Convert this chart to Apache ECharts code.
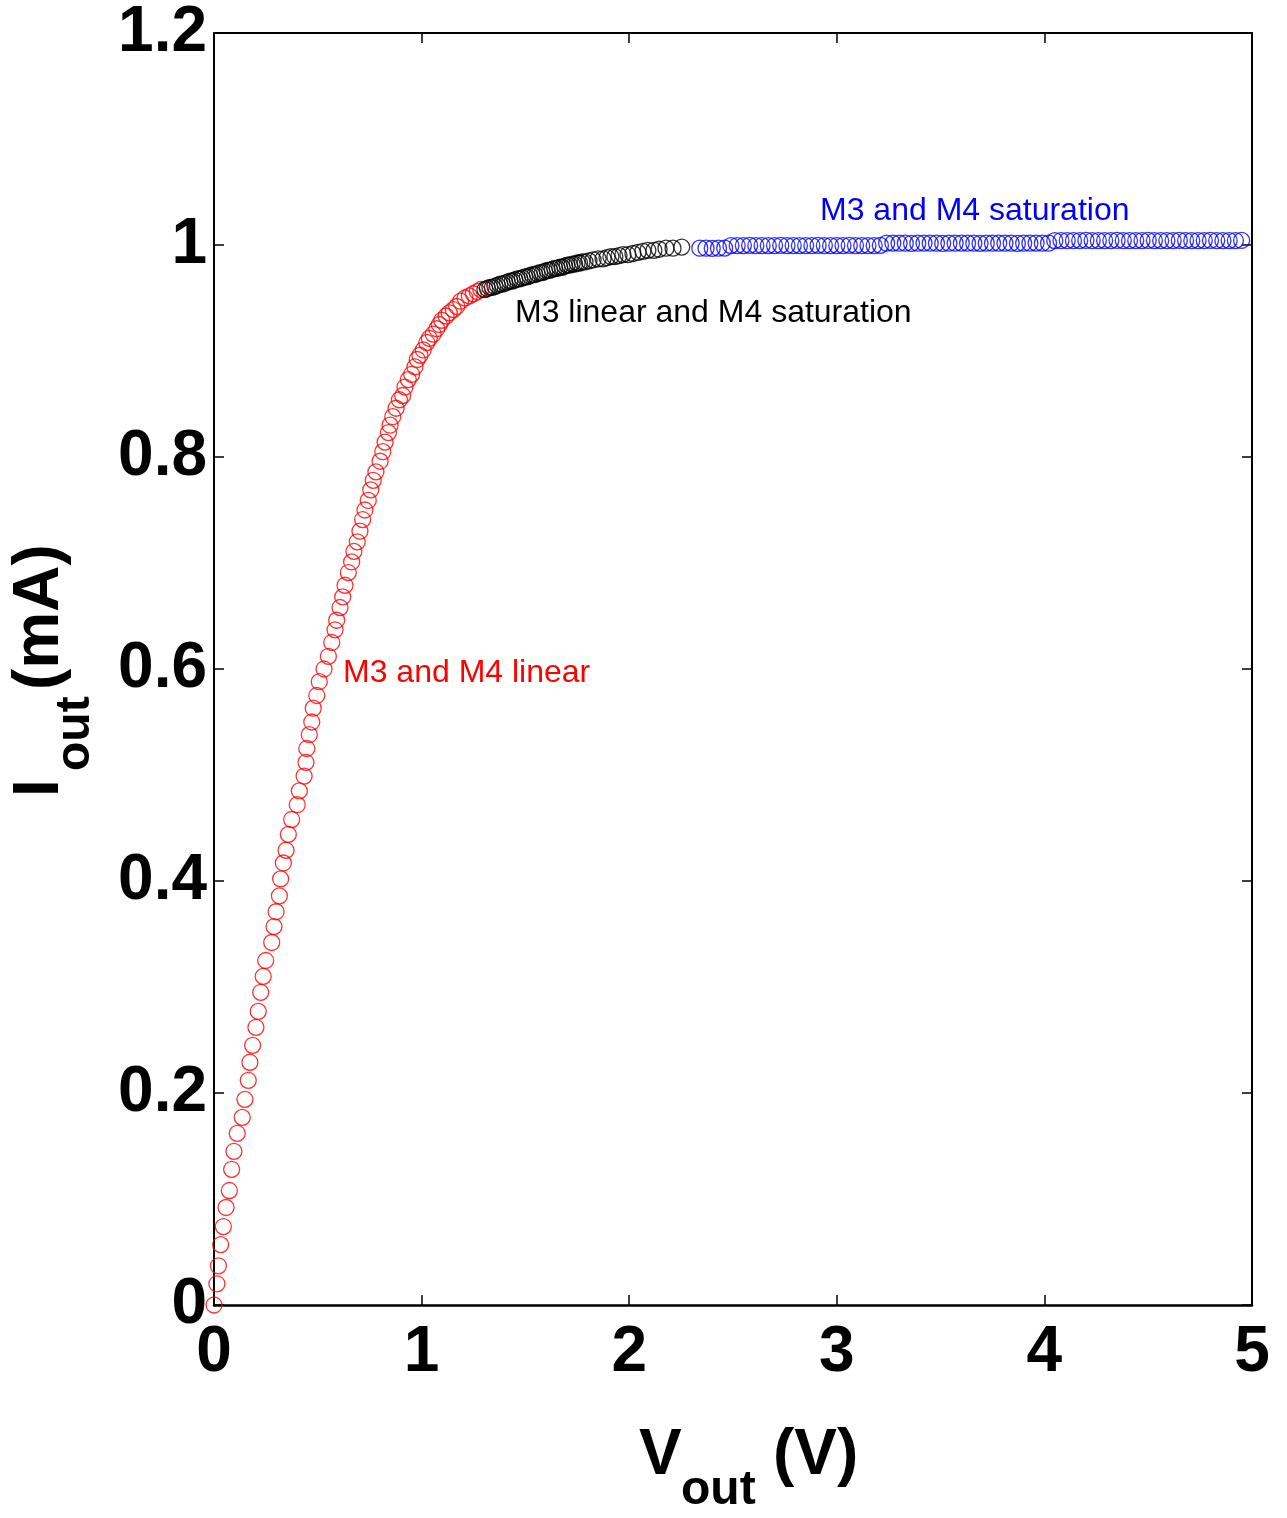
<!DOCTYPE html>
<html><head><meta charset="utf-8">
<script src="https://cdn.jsdelivr.net/npm/echarts@6/dist/echarts.min.js"></script>
<style>html,body{margin:0;padding:0;background:#fff}#c{width:1287px;height:1518px}</style>
</head><body><div id="c"></div>
<script>
// ---- data (Vout in V, Iout in mA) ----
const redV = [0, 0.014, 0.021, 0.032, 0.045, 0.058, 0.074, 0.085, 0.096, 0.112,
  0.136, 0.149, 0.165, 0.173, 0.186, 0.202, 0.213, 0.225, 0.237, 0.249,
  0.278, 0.289, 0.299, 0.315, 0.321, 0.334, 0.347, 0.358, 0.374, 0.401,
  0.411, 0.434, 0.443, 0.447, 0.459, 0.471, 0.478, 0.495, 0.507, 0.530,
  0.551, 0.567, 0.583, 0.591, 0.607, 0.620, 0.631, 0.647, 0.663, 0.674,
  0.690, 0.703, 0.716, 0.727, 0.743, 0.755, 0.767, 0.780, 0.800, 0.813,
  0.824, 0.840, 0.848, 0.861, 0.877, 0.893, 0.909, 0.920, 0.936, 0.952,
  0.968, 0.979, 0.992, 1.008, 1.025, 1.037, 1.056, 1.073, 1.085, 1.097,
  1.118, 1.133, 1.153, 1.169, 1.188, 1.209, 1.230, 1.249, 1.268, 1.285];
const redI = [0, 0.020, 0.037, 0.057, 0.074, 0.092, 0.108, 0.128, 0.145, 0.162,
  0.177, 0.194, 0.212, 0.229, 0.245, 0.262, 0.277, 0.295, 0.310, 0.325,
  0.342, 0.357, 0.371, 0.386, 0.402, 0.417, 0.429, 0.444, 0.458, 0.472,
  0.485, 0.499, 0.512, 0.525, 0.538, 0.550, 0.563, 0.575, 0.588, 0.600,
  0.612, 0.625, 0.637, 0.646, 0.658, 0.668, 0.679, 0.691, 0.701, 0.711,
  0.720, 0.730, 0.741, 0.750, 0.759, 0.769, 0.778, 0.786, 0.796, 0.805,
  0.814, 0.823, 0.830, 0.838, 0.846, 0.854, 0.858, 0.866, 0.873, 0.878,
  0.885, 0.892, 0.896, 0.901, 0.908, 0.912, 0.916, 0.921, 0.925, 0.929,
  0.933, 0.936, 0.939, 0.942, 0.947, 0.950, 0.952, 0.954, 0.956, 0.958];

const blackV = [1.305, 1.317, 1.329, 1.341, 1.353, 1.365, 1.377, 1.389, 1.401, 1.413,
  1.425, 1.437, 1.449, 1.461, 1.473, 1.485, 1.497, 1.509, 1.521, 1.533,
  1.545, 1.557, 1.569, 1.581, 1.593, 1.605, 1.617, 1.629, 1.641, 1.653,
  1.665, 1.677, 1.689, 1.701, 1.713, 1.725, 1.737, 1.749, 1.761, 1.773,
  1.787, 1.806, 1.826, 1.850, 1.874, 1.893, 1.912, 1.931, 1.951, 1.970,
  1.994, 2.018, 2.042, 2.066, 2.090, 2.119, 2.144, 2.177, 2.211, 2.253];
const blackI = [0.958, 0.959, 0.960, 0.960, 0.961, 0.962, 0.963, 0.963, 0.964, 0.965,
  0.966, 0.966, 0.967, 0.968, 0.968, 0.969, 0.970, 0.970, 0.971, 0.972,
  0.972, 0.973, 0.974, 0.974, 0.975, 0.976, 0.976, 0.977, 0.978, 0.978,
  0.979, 0.979, 0.980, 0.981, 0.981, 0.982, 0.982, 0.983, 0.983, 0.984,
  0.984, 0.985, 0.986, 0.987, 0.987, 0.988, 0.989, 0.989, 0.990, 0.991,
  0.991, 0.992, 0.993, 0.994, 0.995, 0.995, 0.996, 0.997, 0.997, 0.998];

const blueV = [2.34, 2.37, 2.40, 2.43, 2.46, 2.49, 2.52, 2.55, 2.58, 2.61,
  2.64, 2.67, 2.70, 2.73, 2.76, 2.79, 2.82, 2.85, 2.88, 2.91,
  2.94, 2.97, 3.00, 3.03, 3.06, 3.09, 3.12, 3.15, 3.18, 3.21,
  3.24, 3.27, 3.30, 3.33, 3.36, 3.39, 3.42, 3.45, 3.48, 3.51,
  3.54, 3.57, 3.60, 3.63, 3.66, 3.69, 3.72, 3.75, 3.78, 3.81,
  3.84, 3.87, 3.90, 3.93, 3.96, 3.99, 4.02, 4.05, 4.08, 4.11,
  4.14, 4.17, 4.20, 4.23, 4.26, 4.29, 4.32, 4.35, 4.38, 4.41,
  4.44, 4.47, 4.50, 4.53, 4.56, 4.59, 4.62, 4.65, 4.68, 4.71,
  4.74, 4.77, 4.80, 4.83, 4.86, 4.89, 4.92, 4.95];
const blueI = [0.9970, 0.9970, 0.9969, 0.9970, 0.9971, 0.9994, 0.9995, 0.9995, 0.9996, 0.9995,
  0.9995, 0.9994, 0.9995, 0.9996, 0.9995, 0.9995, 0.9994, 0.9995, 0.9995, 0.9996,
  0.9995, 0.9994, 0.9995, 0.9995, 0.9996, 0.9995, 0.9994, 0.9995, 0.9995, 0.9996,
  1.0017, 1.0018, 1.0017, 1.0017, 1.0016, 1.0017, 1.0018, 1.0017, 1.0017, 1.0016,
  1.0017, 1.0017, 1.0018, 1.0017, 1.0017, 1.0016, 1.0017, 1.0017, 1.0018, 1.0017,
  1.0017, 1.0016, 1.0017, 1.0017, 1.0018, 1.0017, 1.0017, 1.0041, 1.0042, 1.0042,
  1.0041, 1.0042, 1.0043, 1.0042, 1.0041, 1.0042, 1.0042, 1.0043, 1.0042, 1.0041,
  1.0042, 1.0042, 1.0043, 1.0042, 1.0041, 1.0042, 1.0042, 1.0043, 1.0042, 1.0041,
  1.0042, 1.0042, 1.0043, 1.0042, 1.0041, 1.0042, 1.0042, 1.0043];

const xTickLabels = ['0', '1', '2', '3', '4', '5'];
const yTickLabels = ['0', '0.2', '0.4', '0.6', '0.8', '1', '1.2'];
const regionLabels = ['M3 and M4 linear', 'M3 linear and M4 saturation', 'M3 and M4 saturation'];

function pairs(xs, ys) {
  const n = Math.min(xs.length, ys.length);
  const out = [];
  for (let i = 0; i < n; i++) out.push([xs[i], ys[i]]);
  return out;
}

const FONT = '"Liberation Sans", Arial, Helvetica, sans-serif';
const chart = echarts.init(document.getElementById('c'), null, {renderer: 'canvas'});

const lineStyle = {color: '#000', width: 2};
const tickStyle = {color: '#000', width: 1.5};

function mk(color, data) {
  return {
    type: 'scatter', data: data, symbol: 'circle', symbolSize: 16, clip: false,
    itemStyle: {color: 'rgba(0,0,0,0)', borderColor: color, borderWidth: 1.3},
    emphasis: {disabled: true}, silent: true
  };
}

function txt(x, y, text, color, font, rot) {
  const el = {type: 'text', x: x, y: y, silent: true,
    style: {text: text, fill: color, font: font, textAlign: 'left', textVerticalAlign: 'middle', align: 'left', verticalAlign: 'middle'}};
  if (rot) el.rotation = rot;
  return el;
}

chart.setOption({
  animation: false,
  backgroundColor: '#fff',
  grid: {left: 214, right: 35, top: 33, bottom: 213, containLabel: false},
  xAxis: [{
    type: 'value', min: 0, max: 5, interval: 1, position: 'bottom',
    axisLine: {show: true, onZero: false, lineStyle: {color: '#000', width: 2.5}},
    axisTick: {show: true, inside: true, length: 10, lineStyle: tickStyle},
    splitLine: {show: false},
    axisLabel: {show: true, margin: 16, color: '#000', fontSize: 64, fontWeight: 'bold', fontFamily: FONT,
      formatter: function (v) { return xTickLabels[Math.round(v)]; }}
  }, {
    type: 'value', min: 0, max: 5, interval: 1, position: 'top',
    axisLine: {show: true, onZero: false, lineStyle: lineStyle},
    axisTick: {show: true, inside: true, length: 10, lineStyle: tickStyle},
    splitLine: {show: false}, axisLabel: {show: false}
  }],
  yAxis: [{
    type: 'value', min: 0, max: 1.2, interval: 0.2, position: 'left',
    axisLine: {show: true, onZero: false, lineStyle: lineStyle},
    axisTick: {show: true, inside: true, length: 10, lineStyle: tickStyle},
    splitLine: {show: false},
    axisLabel: {show: true, margin: 7, color: '#000', fontSize: 64, fontWeight: 'bold', fontFamily: FONT,
      formatter: function (v) { return yTickLabels[Math.round(v * 5)]; }}
  }, {
    type: 'value', min: 0, max: 1.2, interval: 0.2, position: 'right',
    axisLine: {show: true, onZero: false, lineStyle: lineStyle},
    axisTick: {show: true, inside: true, length: 10, lineStyle: tickStyle},
    splitLine: {show: false}, axisLabel: {show: false}
  }],
  series: [
    mk('#FF0000', pairs(redV, redI)),
    mk('#000000', pairs(blackV, blackI)),
    mk('#0000FF', pairs(blueV, blueI))
  ],
  graphic: [
    txt(343, 673, regionLabels[0], '#FF0000', '32px ' + FONT),
    txt(515, 313, regionLabels[1], '#000', '32px ' + FONT),
    txt(820, 211, regionLabels[2], '#0000FF', '32px ' + FONT),
    // x-axis title: V_out (V)
    txt(639, 1456, 'V', '#000', 'bold 64px ' + FONT),
    txt(681, 1491, 'out', '#000', 'bold 48px ' + FONT),
    txt(773, 1456, '(V)', '#000', 'bold 64px ' + FONT),
    // y-axis title: I_out (mA)
    txt(40, 797, 'I', '#000', 'bold 64px ' + FONT, Math.PI / 2),
    txt(76, 771, 'out', '#000', 'bold 48px ' + FONT, Math.PI / 2),
    txt(40, 690, '(mA)', '#000', 'bold 64px ' + FONT, Math.PI / 2)
  ]
});
</script>
</body></html>
